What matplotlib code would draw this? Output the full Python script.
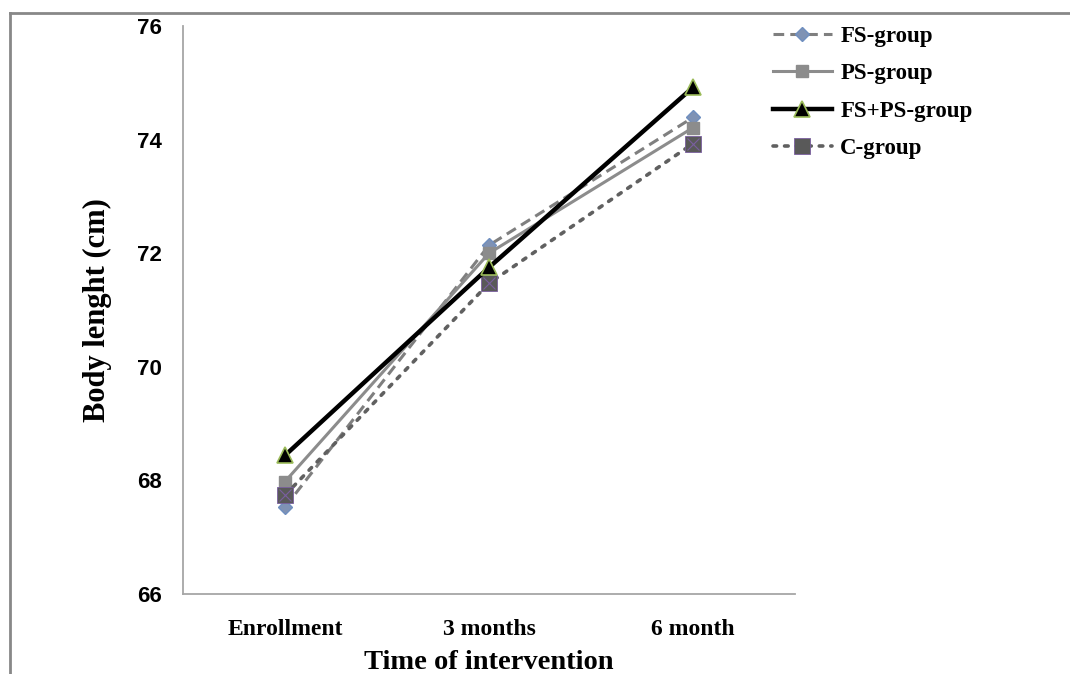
import matplotlib
matplotlib.use("Agg")
import matplotlib.pyplot as plt
from matplotlib.lines import Line2D

categories = ["Enrollment", "3 months", "6 month"]
fs_group = [67.53, 72.14, 74.39]
ps_group = [67.98, 72.00, 74.21]
fsps_group = [68.44, 71.75, 74.92]
c_group = [67.74, 71.47, 73.93]
yticks = [66, 68, 70, 72, 74, 76]

fig = plt.figure(figsize=(10.7, 6.74), dpi=100)
ax = fig.add_axes([183/1070, 1-594/674, (795-183)/1070, (594-26)/674])

x = list(range(len(categories)))
serif = "Liberation Serif"

ax.plot(x, fs_group, color="#7f7f7f", lw=2.2, ls=(0, (3.5, 2)), marker="D",
        ms=7, mfc="#7f92b4", mec="#6f8fc0", label="FS-group", zorder=3)
ax.plot(x, ps_group, color="#8c8c8c", lw=2.2, ls="-", marker="s",
        ms=9, mfc="#8c8c8c", mec="#8c8c8c", label="PS-group", zorder=3)
ax.plot(x, fsps_group, color="black", lw=3.2, ls="-", marker="^",
        ms=11, mfc="black", mec="#9bbb59", mew=1.2, label="FS+PS-group", zorder=4)
ax.plot(x, c_group, color="#606060", lw=2.6, ls=(0, (1, 2.2)), dash_capstyle="round",
        marker="s", ms=11, mfc="#595959", mec="#7a5fa0", mew=0.6, label="C-group", zorder=3)
# X over C-group markers
ax.plot(x, c_group, ls="none", marker="x", ms=9, mec="#7a5fa0", mew=0.8, zorder=5)

ax.set_xlim(-0.5, 2.5)
ax.set_ylim(66, 76)
ax.set_yticks(yticks)
ax.set_yticklabels([str(v) for v in yticks], fontsize=16, fontweight="bold",
                   family="Liberation Sans")
ax.set_xticks(x)
ax.set_xticklabels(categories, fontsize=17, fontweight="bold", family=serif)
ax.tick_params(axis="both", length=0)
ax.tick_params(axis="y", pad=15)
ax.tick_params(axis="x", pad=18)
for s in ["top", "right"]:
    ax.spines[s].set_visible(False)
for s in ["left", "bottom"]:
    ax.spines[s].set_color("#a6a6a6")
    ax.spines[s].set_linewidth(1.3)

ax.set_xlabel("Time of intervention", fontsize=20.5, fontweight="bold", family=serif, labelpad=7)
ax.set_ylabel("Body lenght (cm)", fontsize=22, fontweight="bold", family=serif, labelpad=18)

leg = fig.legend(loc="upper left", bbox_to_anchor=(752/1070, 1-5/674),
                 prop={"family": serif, "weight": "bold", "size": 16.5},
                 frameon=False, handlelength=2.6, labelspacing=0.72, handletextpad=0.35)

# outer frame lines (top and left)
fig.add_artist(Line2D([10/1070, 1.0], [1-13/674, 1-13/674], transform=fig.transFigure,
                      color="#888888", lw=2))
fig.add_artist(Line2D([10/1070, 10/1070], [0, 1-13/674], transform=fig.transFigure,
                      color="#888888", lw=2))

fig.savefig("out.png", dpi=100)
